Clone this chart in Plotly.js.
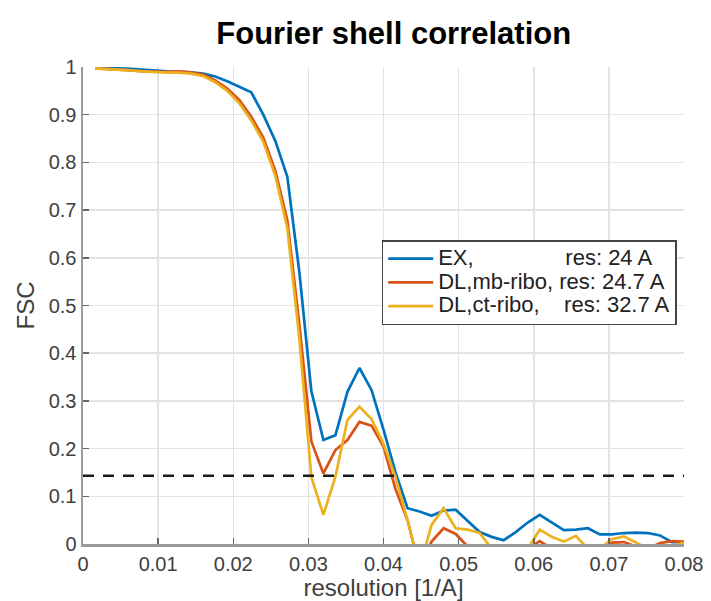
<!DOCTYPE html>
<html>
<head>
<meta charset="utf-8">
<script src="https://cdn.plot.ly/plotly-3.0.1.min.js"></script>
<style>html,body{margin:0;padding:0;background:#fff;}#chart{width:711px;height:601px;}</style>
</head>
<body>
<div id="chart"></div>
<script>
// Spatial frequency samples [1/A]
const resolution = [0.0016, 0.0032, 0.0048, 0.0064, 0.008, 0.0096, 0.0112, 0.0128, 0.0144, 0.016,
  0.0176, 0.0192, 0.0208, 0.0224, 0.024, 0.0256, 0.0272, 0.0288, 0.0304, 0.032,
  0.0336, 0.0352, 0.0368, 0.0384, 0.04, 0.0416, 0.0432, 0.0448, 0.0464, 0.048,
  0.0496, 0.0512, 0.0528, 0.0544, 0.056, 0.0576, 0.0592, 0.0608, 0.0624, 0.064,
  0.0656, 0.0672, 0.0688, 0.0704, 0.072, 0.0736, 0.0752, 0.0768, 0.0784, 0.08];

// FSC curves
const fscEX = [0.998, 0.998, 0.997, 0.996, 0.994, 0.992, 0.991, 0.990, 0.989, 0.986,
  0.980, 0.970, 0.958, 0.947, 0.900, 0.845, 0.770, 0.570, 0.320, 0.218,
  0.228, 0.319, 0.369, 0.323, 0.240, 0.150, 0.075, 0.068, 0.059, 0.070,
  0.072, 0.048, 0.025, 0.015, 0.008, 0.025, 0.045, 0.061, 0.045, 0.029,
  0.030, 0.033, 0.020, 0.020, 0.023, 0.024, 0.023, 0.018, 0.004, 0.004];

const fscMB = [0.997, 0.996, 0.995, 0.993, 0.991, 0.990, 0.990, 0.991, 0.989, 0.984,
  0.972, 0.955, 0.931, 0.896, 0.852, 0.782, 0.678, 0.460, 0.215, 0.148,
  0.197, 0.218, 0.256, 0.248, 0.204, 0.115, 0.050, -0.050, 0.005, 0.033,
  0.021, -0.005, -0.030, -0.030, -0.025, -0.030, -0.010, 0.006, -0.010, -0.030,
  -0.020, -0.010, -0.020, 0.003, 0.004, -0.005, -0.010, 0.002, 0.006, 0.005];

const fscCT = [0.997, 0.996, 0.994, 0.993, 0.991, 0.989, 0.988, 0.988, 0.986, 0.981,
  0.968, 0.950, 0.924, 0.888, 0.843, 0.772, 0.662, 0.430, 0.140, 0.061,
  0.141, 0.260, 0.288, 0.262, 0.210, 0.140, 0.050, -0.050, 0.040, 0.075,
  0.033, 0.030, 0.023, -0.010, -0.030, -0.030, -0.010, 0.030, 0.015, 0.005,
  0.017, -0.010, -0.010, 0.010, 0.016, 0.003, -0.010, -0.010, -0.005, 0.003];

// 0.143 threshold line
const thresholdX = [0, 0.08];
const thresholdY = [0.143, 0.143];

// Legend names
const nbsp = '\u00a0';
const seriesNames = [
  'EX,' + nbsp.repeat(15) + 'res: 24 A',
  'DL,mb-ribo,' + nbsp + 'res: 24.7 A',
  'DL,ct-ribo,' + nbsp.repeat(4) + 'res: 32.7 A'
];
const legendLabel = s => '<span style="font-size:22px">' + s + '</span>';

// Ticks
const xTickVals = [0, 0.01, 0.02, 0.03, 0.04, 0.05, 0.06, 0.07, 0.08];
const xTickText = ['0', '0.01', '0.02', '0.03', '0.04', '0.05', '0.06', '0.07', '0.08'];
const yTickVals = [0, 0.1, 0.2, 0.3, 0.4, 0.5, 0.6, 0.7, 0.8, 0.9, 1];
const yTickText = ['0', '0.1', '0.2', '0.3', '0.4', '0.5', '0.6', '0.7', '0.8', '0.9', '1'];

const FONT = '"Liberation Sans", Arial, Helvetica, sans-serif';
const colors = ['#0072BD', '#D95319', '#EDB120'];

const traces = [
  {x: resolution, y: fscEX, name: legendLabel(seriesNames[0]), type: 'scatter', mode: 'lines',
   line: {color: colors[0], width: 2.7}},
  {x: resolution, y: fscMB, name: legendLabel(seriesNames[1]), type: 'scatter', mode: 'lines',
   line: {color: colors[1], width: 2.7}},
  {x: resolution, y: fscCT, name: legendLabel(seriesNames[2]), type: 'scatter', mode: 'lines',
   line: {color: colors[2], width: 2.7}},
  {x: thresholdX, y: thresholdY, type: 'scatter', mode: 'lines', showlegend: false,
   line: {color: '#1a1a1a', width: 2.5, dash: '11px,9px'}}
];

const axisCommon = {
  showline: true, linecolor: '#9a9a9a', linewidth: 2.5,
  ticks: 'inside', ticklen: 6, tickcolor: '#666', tickwidth: 1.5,
  showgrid: true, gridcolor: '#e3e3e3', gridwidth: 1.5,
  zeroline: false, tickfont: {family: FONT, size: 20, color: '#404040'},
  fixedrange: true
};

const layout = {
  width: 711, height: 601,
  margin: {l: 83, r: 27, t: 67, b: 57},
  paper_bgcolor: '#ffffff', plot_bgcolor: '#ffffff',
  font: {family: FONT, color: '#404040'},
  title: {text: 'Fourier shell correlation', font: {family: FONT, size: 31, weight: 'bold', color: '#000'},
          xref: 'paper', x: 0.517, xanchor: 'center', yref: 'container', y: 0.945, yanchor: 'middle'},
  xaxis: Object.assign({}, axisCommon, {range: [0, 0.08], tickmode: 'array', tickvals: xTickVals, ticktext: xTickText,
    title: {text: 'resolution [1/A]', font: {family: FONT, size: 24, color: '#404040'}, standoff: 2}}),
  yaxis: Object.assign({}, axisCommon, {range: [0, 1], tickmode: 'array', tickvals: yTickVals, ticktext: yTickText,
    title: {text: 'FSC', font: {family: FONT, size: 24, color: '#404040'}, standoff: 8}}),
  legend: {x: 0.497, y: 0.637, xanchor: 'left', yanchor: 'top', bgcolor: '#ffffff',
    bordercolor: '#444', borderwidth: 1.5, itemwidth: 45,
    font: {family: FONT, size: 16, color: '#222'}},
  showlegend: true
};

Plotly.newPlot('chart', traces, layout, {displayModeBar: false, staticPlot: true});
</script>
</body>
</html>
